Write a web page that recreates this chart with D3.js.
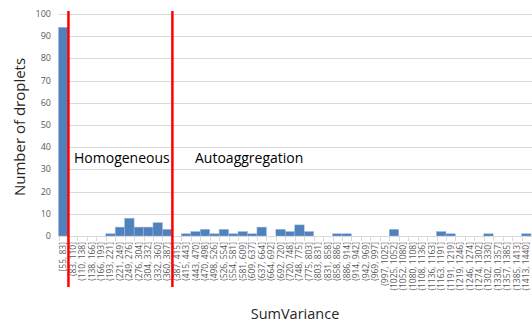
<!DOCTYPE html>
<html><head><meta charset="utf-8">
<script src="https://cdn.jsdelivr.net/npm/d3@7"></script>
<style>body{margin:0;background:#fff}svg{display:block}</style>
</head><body>
<script>
const categories = ["[55, 83]","(83, 110]","(110, 138]","(138, 166]","(166, 193]","(193, 221]","(221, 249]","(249, 276]","(276, 304]","(304, 332]","(332, 360]","(360, 387]","(387, 415]","(415, 443]","(443, 470]","(470, 498]","(498, 526]","(526, 554]","(554, 581]","(581, 609]","(609, 637]","(637, 664]","(664, 692]","(692, 720]","(720, 748]","(748, 775]","(775, 803]","(803, 831]","(831, 858]","(858, 886]","(886, 914]","(914, 942]","(942, 969]","(969, 997]","(997, 1025]","(1025, 1052]","(1052, 1080]","(1080, 1108]","(1108, 1136]","(1136, 1163]","(1163, 1191]","(1191, 1219]","(1219, 1246]","(1246, 1274]","(1274, 1302]","(1302, 1330]","(1330, 1357]","(1357, 1385]","(1385, 1413]","(1413, 1440]"];
const counts = [94,0,0,0,0,1,4,8,4,4,6,3,0,1,2,3,1,3,1,2,1,4,0,3,2,5,2,0,0,1,1,0,0,0,0,3,0,0,0,0,2,1,0,0,0,1,0,0,0,1];
const yTicks = [0,10,20,30,40,50,60,70,80,90,100];
const regionLabels = ["Homogeneous","Autoaggregation"];
const dividerIndex = [1,12];

const W=532,H=327;
const svg=d3.select("body").append("svg").attr("width",W).attr("height",H);
const x=d3.scaleBand().domain(categories).range([58.5,531]).padding(0);
const y=d3.scaleLinear().domain([0,100]).range([236,14]);
const font="'Open Sans', 'Liberation Sans', sans-serif";

// gridlines
svg.append("g").selectAll("line").data(yTicks.filter(d=>d>0)).join("line")
  .attr("x1",58.5).attr("x2",W).attr("y1",d=>Math.round(y(d))+0.5).attr("y2",d=>Math.round(y(d))+0.5)
  .attr("stroke","#d9d9d9").attr("stroke-width",1);

// y tick labels
svg.append("g").selectAll("text").data(yTicks).join("text")
  .attr("x",51).attr("y",d=>y(d)+3).attr("text-anchor","end")
  .attr("font-family",font).attr("font-size",9).attr("fill","#595959").text(d=>d);

// bars
svg.append("g").selectAll("rect").data(categories).join("rect")
  .attr("x",d=>x(d)).attr("width",x.bandwidth())
  .attr("y",(d,i)=>y(counts[i])).attr("height",(d,i)=>y(0)-y(counts[i]))
  .attr("fill","#4f81bd").attr("stroke","#9db6dc").attr("stroke-width",0.5);

// x axis line and ticks
svg.append("line").attr("x1",58.5).attr("x2",W).attr("y1",236.5).attr("y2",236.5).attr("stroke","#d9d9d9");
svg.append("g").selectAll("line").data(categories).join("line")
  .attr("x1",d=>Math.round(x(d))+0.5).attr("x2",d=>Math.round(x(d))+0.5)
  .attr("y1",236).attr("y2",241).attr("stroke","#d9d9d9");

// x tick labels
svg.append("g").selectAll("text").data(categories).join("text")
  .attr("transform",d=>`translate(${x(d)+x.bandwidth()/2+3},242) rotate(-90)`)
  .attr("text-anchor","end").attr("font-family",font).attr("font-size",8.5).attr("fill","#595959").text(d=>d);

// red dividers
svg.append("g").selectAll("line").data(dividerIndex).join("line")
  .attr("x1",d=>x(categories[d])+0.5).attr("x2",d=>x(categories[d])+0.5)
  .attr("y1",11).attr("y2",287).attr("stroke","#ff0000").attr("stroke-width",2.5);

// region labels
svg.append("text").attr("x",74).attr("y",163).attr("font-family",font).attr("font-size",14).attr("fill","#000").text(regionLabels[0]);
svg.append("text").attr("x",195).attr("y",163).attr("font-family",font).attr("font-size",14).attr("fill","#000").text(regionLabels[1]);

// axis titles
svg.append("text").attr("transform","translate(25,127) rotate(-90)").attr("text-anchor","middle")
  .attr("font-family",font).attr("font-size",15).attr("fill","#262626").text("Number of droplets");
svg.append("text").attr("x",295).attr("y",319).attr("text-anchor","middle")
  .attr("font-family",font).attr("font-size",14.5).attr("fill","#262626").text("SumVariance");
</script>
</body></html>
